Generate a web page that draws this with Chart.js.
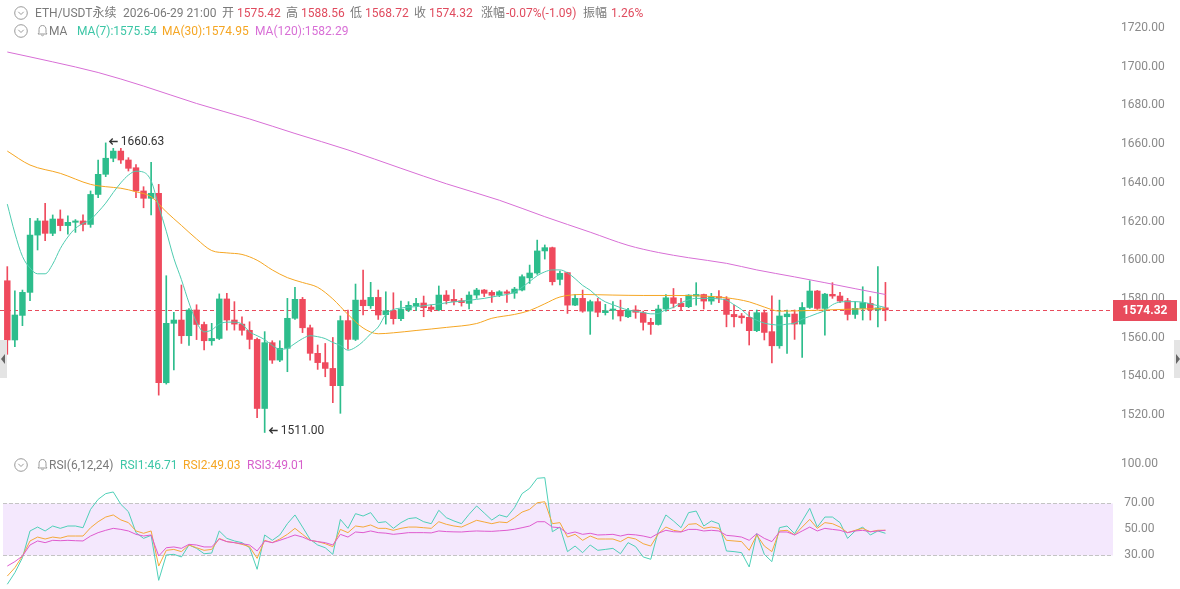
<!DOCTYPE html>
<html lang="zh">
<head>
<meta charset="utf-8">
<title>ETH/USDT永续</title>
<script src="https://cdn.jsdelivr.net/npm/chart.js@4.4.1/dist/chart.umd.min.js"></script>
<style>
  html, body { margin: 0; padding: 0; background: #fff; }
  #wrap { position: relative; width: 1180px; height: 589px; overflow: hidden;
          font-family: Roboto, "Noto Sans CJK SC", sans-serif; font-size: 12px; color: #7a7a7a; }
  #priceWrap { position: absolute; left: 0; top: 0; width: 1180px; height: 445px; }
  #rsiWrap { position: absolute; left: 0; top: 446px; width: 1180px; height: 144px; }
  .t { position: absolute; white-space: nowrap; line-height: 14px; }
  .red { color: #e04b5e; }
  .ic { position: absolute; }
  .tab { position: absolute; top: 340px; width: 7px; height: 38px; background: #e4e4e4; }
  .tab i { position: absolute; top: 14px; width: 0; height: 0; border-top: 5px solid transparent; border-bottom: 5px solid transparent; }
</style>
</head>
<body>
<div id="wrap">
  <div id="priceWrap"><canvas id="price"></canvas></div>
  <div id="rsiWrap"><canvas id="rsi"></canvas></div>

  <!-- header line 1 -->
  <svg class="ic" style="left:14px;top:6px" width="14" height="14" viewBox="0 0 14 14"><circle cx="7" cy="7" r="6.3" fill="none" stroke="#9a9a9a" stroke-width="1"/><path d="M4.3 5.8 L7 8.5 L9.7 5.8" fill="none" stroke="#9a9a9a" stroke-width="1"/></svg>
  <span class="t" style="left:35px;top:6px">ETH/USDT永续</span>
  <span class="t" style="left:123px;top:6px">2026-06-29 21:00</span>
  <span class="t" style="left:222px;top:6px">开</span><span class="t red" style="left:237px;top:6px">1575.42</span>
  <span class="t" style="left:286px;top:6px">高</span><span class="t red" style="left:301px;top:6px">1588.56</span>
  <span class="t" style="left:350px;top:6px">低</span><span class="t red" style="left:365px;top:6px">1568.72</span>
  <span class="t" style="left:414px;top:6px">收</span><span class="t red" style="left:429px;top:6px">1574.32</span>
  <span class="t" style="left:481px;top:6px">涨幅</span><span class="t red" style="left:506px;top:6px">-0.07%(-1.09)</span>
  <span class="t" style="left:583px;top:6px">振幅</span><span class="t red" style="left:611px;top:6px">1.26%</span>

  <!-- header line 2 -->
  <svg class="ic" style="left:14px;top:24px" width="14" height="14" viewBox="0 0 14 14"><circle cx="7" cy="7" r="6.3" fill="none" stroke="#9a9a9a" stroke-width="1"/><path d="M4.3 5.8 L7 8.5 L9.7 5.8" fill="none" stroke="#9a9a9a" stroke-width="1"/></svg>
  <svg class="ic" style="left:37px;top:24px" width="11" height="13" viewBox="0 0 11 13"><path d="M5.5 1.5 C3 1.5 2 3.5 2 5.5 L2 8.5 L1 10 L10 10 L9 8.5 L9 5.5 C9 3.5 8 1.5 5.5 1.5 Z M4.2 11 Q5.5 12.5 6.8 11" fill="none" stroke="#9a9a9a" stroke-width="1"/></svg>
  <span class="t" style="left:49px;top:24px">MA</span>
  <span class="t" style="left:77px;top:24px;color:#3cc6a6">MA(7):1575.54</span>
  <span class="t" style="left:162px;top:24px;color:#f5a623">MA(30):1574.95</span>
  <span class="t" style="left:255px;top:24px;color:#d86fd6">MA(120):1582.29</span>

  <!-- RSI header -->
  <svg class="ic" style="left:14px;top:458px" width="14" height="14" viewBox="0 0 14 14"><circle cx="7" cy="7" r="6.3" fill="none" stroke="#9a9a9a" stroke-width="1"/><path d="M4.3 5.8 L7 8.5 L9.7 5.8" fill="none" stroke="#9a9a9a" stroke-width="1"/></svg>
  <svg class="ic" style="left:37px;top:458px" width="11" height="13" viewBox="0 0 11 13"><path d="M5.5 1.5 C3 1.5 2 3.5 2 5.5 L2 8.5 L1 10 L10 10 L9 8.5 L9 5.5 C9 3.5 8 1.5 5.5 1.5 Z M4.2 11 Q5.5 12.5 6.8 11" fill="none" stroke="#9a9a9a" stroke-width="1"/></svg>
  <span class="t" style="left:49px;top:458px">RSI(6,12,24)</span>
  <span class="t" style="left:120px;top:458px;color:#3cc6a6">RSI1:46.71</span>
  <span class="t" style="left:183px;top:458px;color:#f5a623">RSI2:49.03</span>
  <span class="t" style="left:247px;top:458px;color:#d65fcb">RSI3:49.01</span>

  <div class="tab" style="left:0"><i style="left:1px;border-right:4px solid #666"></i></div>
  <div class="tab" style="left:1174px"><i style="left:2px;border-left:4px solid #666"></i></div>
</div>

<script>
// candles, oldest first; last one is 2026-06-29 21:00
const opens  = [1589.4,1558.8,1571.5,1583.4,1613.0,1620.3,1613.9,1621.3,1617.9,1619.6,
                1620.3,1618.5,1634.0,1644.4,1652.7,1656.4,1651.8,1647.8,1635.8,1632.0,
                1634.6,1536.7,1567.4,1569.1,1561.0,1574.3,1566.8,1558.4,1559.6,1580.0,
                1569.1,1567.0,1563.8,1559.1,1523.4,1557.4,1548.4,1554.5,1570.0,1579.8,
                1565.1,1551.9,1547.1,1544.1,1535.2,1568.8,1559.1,1579.4,1576.5,1580.8,
                1571.9,1573.9,1569.8,1574.3,1576.5,1577.9,1575.8,1574.4,1582.0,1579.8,
                1579.1,1577.7,1582.0,1584.6,1583.4,1581.9,1583.7,1583.0,1584.6,1590.9,
                1593.4,1604.8,1606.5,1590.1,1593.6,1576.8,1580.3,1573.7,1578.6,1572.9,
                1574.1,1574.1,1570.8,1574.3,1572.9,1567.9,1566.8,1574.8,1580.6,1577.7,
                1576.0,1581.5,1582.3,1578.9,1581.2,1580.0,1572.0,1571.2,1570.5,1563.6,
                1572.9,1563.1,1555.8,1570.8,1572.2,1567.0,1575.6,1584.1,1575.1,1582.4,
                1581.5,1579.1,1572.0,1575.1,1577.7,1574.3,1575.42];
const highs  = [1596.7,1584.2,1584.6,1621.6,1621.6,1629.4,1623.4,1626.0,1623.0,1621.0,
                1623.4,1635.8,1651.8,1660.63,1657.8,1657.8,1653.0,1649.4,1638.0,1650.6,
                1639.2,1592.0,1573.1,1587.2,1575.0,1577.0,1568.0,1567.4,1582.6,1582.9,
                1578.6,1570.8,1568.2,1559.8,1563.1,1558.4,1558.4,1580.3,1586.0,1580.8,
                1566.5,1556.2,1557.0,1560.1,1571.2,1574.3,1587.7,1594.9,1588.6,1584.6,
                1583.7,1583.2,1578.9,1578.6,1580.3,1581.5,1576.9,1586.7,1584.3,1584.9,
                1580.3,1583.7,1585.5,1584.9,1584.3,1584.3,1584.6,1586.0,1592.4,1597.5,
                1610.4,1607.9,1606.8,1594.4,1593.8,1582.4,1584.6,1579.4,1580.3,1577.2,
                1578.6,1579.4,1575.1,1576.5,1573.7,1570.0,1576.8,1582.3,1585.4,1580.3,
                1582.2,1588.4,1582.5,1582.9,1584.3,1581.2,1576.8,1572.5,1573.4,1574.3,
                1574.3,1581.6,1579.4,1574.3,1574.3,1578.1,1589.4,1584.4,1582.9,1588.4,
                1583.4,1580.3,1578.6,1586.3,1581.2,1596.7,1588.56];
const lows   = [1551.4,1555.3,1566.2,1579.1,1605.3,1610.1,1612.7,1615.2,1613.5,1614.4,
                1615.2,1617.0,1632.3,1643.2,1650.9,1650.0,1646.1,1632.3,1627.1,1623.4,
                1530.3,1536.0,1543.3,1557.0,1556.0,1559.0,1553.6,1556.1,1559.0,1563.9,
                1563.9,1561.3,1554.2,1518.6,1511.0,1546.7,1547.6,1542.4,1569.4,1562.6,
                1548.4,1543.6,1539.8,1526.4,1520.9,1554.0,1558.5,1571.7,1575.1,1569.4,
                1567.0,1567.0,1568.8,1573.4,1573.9,1570.8,1573.4,1573.9,1577.4,1576.9,
                1576.3,1574.8,1580.3,1581.2,1578.2,1581.2,1578.2,1580.3,1584.1,1588.0,
                1592.7,1600.6,1587.2,1587.2,1572.5,1576.5,1573.1,1561.7,1570.8,1571.7,
                1569.6,1568.6,1570.3,1570.0,1563.9,1561.7,1566.5,1573.7,1575.4,1574.3,
                1575.5,1576.8,1574.8,1577.2,1578.1,1565.6,1565.6,1567.4,1556.2,1563.1,
                1558.8,1547.0,1554.5,1551.9,1559.1,1549.8,1575.1,1574.6,1561.3,1580.3,
                1578.1,1569.1,1570.0,1569.1,1569.1,1565.6,1568.72];
const closes = [1558.8,1571.7,1583.4,1613.0,1620.3,1613.9,1621.3,1617.9,1619.6,1620.3,
                1618.5,1634.0,1644.4,1652.7,1656.4,1651.8,1647.5,1635.8,1632.0,1634.6,
                1536.7,1567.4,1569.1,1561.0,1574.3,1566.8,1558.4,1559.6,1580.0,1569.1,
                1567.0,1563.8,1559.1,1523.4,1557.4,1548.4,1554.5,1570.0,1579.8,1565.1,
                1551.9,1547.1,1544.1,1535.2,1568.8,1559.1,1579.4,1576.5,1580.8,1571.7,
                1573.9,1569.8,1574.6,1576.7,1577.7,1575.5,1574.6,1582.0,1579.1,1578.7,
                1578.1,1582.0,1584.6,1582.9,1581.9,1583.7,1582.9,1585.1,1591.5,1593.4,
                1604.8,1606.5,1588.9,1593.2,1576.8,1580.3,1573.7,1578.6,1573.1,1573.9,
                1574.8,1571.2,1574.1,1573.1,1567.9,1566.8,1574.8,1580.6,1577.7,1576.0,
                1582.0,1582.3,1578.9,1581.2,1580.5,1572.0,1570.8,1570.3,1563.6,1572.9,
                1562.7,1555.8,1571.2,1572.2,1567.0,1575.6,1584.1,1575.1,1582.5,1581.5,
                1578.9,1572.0,1575.1,1578.1,1574.3,1575.4,1574.32];

// moving averages
const ma7 = [1629,1614,1602,1596,1593,1593,1598,1606,1612,1616.5,
             1619,1621,1625,1629.5,1635,1640,1644,1646,1645.5,1641,
             1628,1615,1601,1590,1578,1568,1563,1564,1567,1568,
             1568,1567,1563,1561,1559,1556,1554,1554.5,1557,1559.5,
             1561,1560.5,1559.5,1557.5,1556,1553.5,1555,1558,1562,1565.5,
             1572,1574.5,1575.3,1575.8,1576,1576.5,1577,1577.4,1578,1578.5,
             1578.8,1579.3,1579.8,1580.3,1581,1581.7,1582.3,1583.5,1586,1589,
             1592,1594,1595,1595,1593.5,1590.5,1587,1584.5,1581,1578.5,
             1577,1575.5,1574.3,1573.6,1573,1572.3,1572.5,1574.5,1575.6,1578,
             1579.5,1580.3,1580.3,1580.3,1580,1579.4,1577,1574.5,1571,1569,
             1567.5,1566.8,1566.5,1567,1567.5,1569.5,1571,1572.5,1574,1577,
             1578.4,1578.6,1578.6,1578.3,1577.5,1576.5,1575.54];
// [candle index, value]
const ma30 = [[0,1656.4],[3,1649.2],[7,1644.9],[11,1639.2],[13,1638],[15,1637.2],[17,1635.4],
              [19,1632.8],[21,1625],[23,1618],[25,1611],[27,1605],[29,1603.8],[31,1603],
              [33,1600],[35,1595],[37,1591],[39,1588.5],[41,1586],[43,1580],[45,1572],
              [47,1565],[49,1562],[51,1562.5],[54,1563.7],[58,1565.3],[62,1567.3],[64,1570],
              [67,1572],[69,1574],[71,1577.5],[73,1581],[76,1582.3],[80,1582],[84,1581.8],
              [88,1581.8],[92,1581.5],[95,1580.6],[98,1578.5],[100,1575.8],[102,1573.7],
              [105,1573.9],[108,1574.3],[112,1574.8],[116,1574.95]];
const ma120 = [[0,1707.6],[6,1702.5],[12,1697],[18,1690],[25,1681],[32,1673],[38,1665.5],
               [45,1657],[52,1647.5],[58,1639.5],[65,1631],[71,1622.5],[77,1614.5],[82,1607.7],
               [86,1604],[90,1601.3],[95,1598.4],[99,1595],[104,1591.4],[108,1588.4],
               [112,1585.3],[116,1582.29]];

const rsi1 = [7.5,16.4,27.9,48.5,51.5,48.5,52.3,50.5,52.3,52.3,
              51.0,65.1,72.8,77.2,78.5,69.0,63.3,47.2,42.8,45.1,
              10.5,30.0,30.5,28.5,37.7,35.1,31.0,31.5,48.5,42.8,
              40.8,39.5,35.6,19.0,45.4,41.3,45.4,54.1,60.8,51.5,
              42.0,37.7,35.6,30.5,57.4,50.5,61.8,60.0,62.6,54.9,
              55.6,50.5,54.9,58.0,58.7,55.6,54.1,64.4,58.7,56.2,
              54.1,61.3,67.7,62.3,56.9,60.8,59.2,66.4,77.2,81.3,
              89.0,89.5,47.9,51.5,32.6,36.9,31.8,37.7,33.6,34.3,
              35.1,31.0,39.5,36.4,28.5,26.7,48.5,60.8,56.2,51.0,
              62.6,63.8,52.3,56.2,54.1,33.1,32.6,31.8,20.8,46.4,
              30.5,24.9,51.0,52.3,46.4,56.2,65.9,51.5,59.2,59.2,
              54.9,42.8,48.5,51.5,45.4,48.5,46.71];
const rsi2 = [13.8,20.2,29.2,40.8,43.8,42.3,43.8,43.0,44.6,44.6,
              44.6,51.0,55.6,59.2,60.8,57.0,54.9,48.5,46.7,48.5,
              21.5,33.6,34.3,32.6,37.7,35.6,33.6,34.3,42.8,40.3,
              39.5,38.2,36.4,27.4,41.3,39.5,42.3,45.9,50.5,45.9,
              41.3,40.3,38.7,36.4,49.7,47.2,52.3,51.5,53.1,50.5,
              50.5,49.0,50.5,51.5,51.5,51.0,50.5,55.6,53.6,52.3,
              51.5,54.1,56.7,55.4,54.1,55.4,54.9,58.7,63.0,65.1,
              70.2,71.0,54.1,54.9,43.8,45.9,41.3,44.6,42.3,42.3,
              42.3,40.3,43.6,42.3,38.7,36.9,46.4,51.5,49.0,47.9,
              53.6,54.1,50.5,51.5,50.5,41.3,40.8,40.3,33.6,45.4,
              36.9,32.6,48.5,49.0,45.4,51.5,57.4,50.5,54.9,54.1,
              51.5,47.2,49.0,50.5,47.9,49.0,49.03];
const rsi3 = [21.5,24.9,29.2,37.7,40.8,39.5,41.3,41.0,41.3,41.0,
              40.8,44.6,47.2,49.0,50.5,49.7,48.5,45.9,44.6,45.4,
              29.2,35.6,36.2,35.1,38.2,37.7,36.2,36.2,42.3,40.3,
              39.5,38.7,37.7,33.1,40.8,39.5,41.3,43.3,45.4,43.8,
              41.3,40.3,39.5,37.7,45.9,43.8,47.7,47.2,48.5,47.2,
              46.8,45.9,46.5,47.2,47.2,47.2,47.0,48.5,48.0,47.8,
              47.7,48.2,48.5,48.3,48.2,48.6,49.0,49.8,51.0,52.3,
              55.6,55.6,51.5,51.0,46.4,47.7,45.9,46.7,45.4,45.6,
              45.9,44.6,45.9,45.5,44.6,43.3,46.7,49.0,47.9,47.7,
              49.7,49.7,48.5,49.0,48.5,45.1,44.6,43.8,41.3,46.4,
              42.8,40.3,47.7,47.7,45.4,48.5,51.5,48.5,50.5,49.7,
              49.0,47.2,48.5,49.0,47.9,48.5,49.01];

const priceTicks = [1520, 1540, 1560, 1580, 1600, 1620, 1640, 1660, 1680, 1700, 1720];
const rsiTicks = [30, 50, 70, 100];
const lastClose = 1574.32;
const highMark = { index: 13, value: 1660.63 };
const lowMark = { index: 34, value: 1511.00 };

const UP = '#2dbd8c';
const DOWN = '#ef4a5d';
const MA7_C = '#4fccb0';
const MA30_C = '#f5a623';
const MA120_C = '#d86fd6';
const PRICE_C = '#e84b5c';
const TICK_C = '#8a8a8a';

// 7.57px per candle, first candle 7.3px in from the left edge
const X_MIN = -0.964;
const X_MAX = 146.06;
const AXIS_W = 67;

const idx = opens.map((_, i) => i);
const candleColor = (c) => (closes[c.dataIndex] >= opens[c.dataIndex] ? UP : DOWN);
const pairs = (arr) => arr.map(([x, y]) => ({ x, y }));

const xScale = { type: 'linear', min: X_MIN, max: X_MAX, display: false, offset: false, grid: { display: false } };

function rightAxis(min, max, ticks) {
  return {
    position: 'right', min, max,
    grid: { display: false }, border: { display: false },
    afterBuildTicks(s) { s.ticks = ticks.map((v) => ({ value: v })); },
    afterFit(s) { s.width = AXIS_W; s.paddingTop = 0; s.paddingBottom = 0; },
    ticks: {
      color: TICK_C, padding: 0, crossAlign: 'center',
      font: { family: 'Roboto', size: 12 },
      callback: (v) => Number(v).toFixed(2)
    }
  };
}

function markLabel(c, x, y, value) {
  // small left arrow, then the price
  c.beginPath();
  c.moveTo(x + 9, y); c.lineTo(x + 1, y);
  c.moveTo(x + 4, y - 3); c.lineTo(x + 1, y); c.lineTo(x + 4, y + 3);
  c.stroke();
  c.fillText(value.toFixed(2), x + 12, y);
}

const lastPriceLine = {
  id: 'lastPriceLine',
  beforeDatasetsDraw(chart) {
    const { ctx: c, chartArea, scales } = chart;
    const y = Math.round(scales.y.getPixelForValue(lastClose)) + 0.5;
    c.save();
    c.strokeStyle = PRICE_C;
    c.lineWidth = 1;
    c.setLineDash([4, 3]);
    c.beginPath();
    c.moveTo(chartArea.left, y);
    c.lineTo(chartArea.right, y);
    c.stroke();
    c.restore();
  },
  afterDatasetsDraw(chart) {
    const { ctx: c, scales } = chart;
    c.save();
    c.fillStyle = '#333';
    c.strokeStyle = '#333';
    c.lineWidth = 1.3;
    c.font = '12px Roboto';
    c.textBaseline = 'middle';
    markLabel(c, scales.x.getPixelForValue(highMark.index) + 3, Math.round(scales.y.getPixelForValue(highMark.value)) - 1.5, highMark.value);
    markLabel(c, scales.x.getPixelForValue(lowMark.index) + 4, Math.round(scales.y.getPixelForValue(lowMark.value)) - 1.5, lowMark.value);
    c.restore();
  },
  afterDraw(chart) {
    const { ctx: c, chartArea, scales } = chart;
    const y = Math.round(scales.y.getPixelForValue(lastClose));
    c.save();
    c.fillStyle = PRICE_C;
    c.fillRect(chartArea.right, y - 10, 64, 21);
    c.fillStyle = '#fff';
    c.font = 'bold 12px Roboto';
    c.textAlign = 'center';
    c.textBaseline = 'middle';
    c.fillText(lastClose.toFixed(2), chartArea.right + 32, y + 1);
    c.restore();
  }
};

new Chart(document.getElementById('price'), {
  type: 'bar',
  data: {
    datasets: [
      { type: 'line', label: 'MA(7)', data: idx.map((i) => ({ x: i, y: ma7[i] })), borderColor: MA7_C,
        borderWidth: 1, pointRadius: 0, cubicInterpolationMode: 'monotone', order: 0 },
      { type: 'line', label: 'MA(30)', data: pairs(ma30), borderColor: MA30_C,
        borderWidth: 1, pointRadius: 0, cubicInterpolationMode: 'monotone', order: 0 },
      { type: 'line', label: 'MA(120)', data: pairs(ma120), borderColor: MA120_C,
        borderWidth: 1, pointRadius: 0, cubicInterpolationMode: 'monotone', order: 0 },
      { label: 'wick', data: idx.map((i) => ({ x: i, y: [lows[i], highs[i]] })),
        backgroundColor: candleColor, barThickness: 1, grouped: false, order: 2 },
      { label: 'body', data: idx.map((i) => ({ x: i, y: [opens[i], closes[i]] })),
        backgroundColor: candleColor, barThickness: 5.8, minBarLength: 1, grouped: false, order: 1 }
    ]
  },
  options: {
    responsive: true,
    maintainAspectRatio: false,
    animation: false,
    layout: { padding: 0 },
    plugins: { legend: { display: false }, tooltip: { enabled: false } },
    scales: { x: xScale, y: rightAxis(1504.53, 1734.47, priceTicks) }
  },
  plugins: [lastPriceLine]
});

const rsiBand = {
  id: 'rsiBand',
  beforeDatasetsDraw(chart) {
    const { ctx: c, chartArea, scales } = chart;
    const top = Math.round(scales.y.getPixelForValue(70)) + 0.5;
    const bot = Math.round(scales.y.getPixelForValue(30)) + 0.5;
    const left = chartArea.left + 3;
    c.save();
    c.fillStyle = '#f4e8fd';
    c.fillRect(left, top, chartArea.right - left, bot - top);
    c.strokeStyle = '#c4c4c4';
    c.lineWidth = 1;
    c.setLineDash([4, 2]);
    c.beginPath();
    c.moveTo(left, top); c.lineTo(chartArea.right, top);
    c.moveTo(left, bot); c.lineTo(chartArea.right, bot);
    c.stroke();
    c.restore();
  }
};

const rsiLine = (label, values, color) => ({
  label, data: idx.map((i) => ({ x: i, y: values[i] })), borderColor: color,
  borderWidth: 1, pointRadius: 0, tension: 0
});

new Chart(document.getElementById('rsi'), {
  type: 'line',
  data: {
    datasets: [
      rsiLine('RSI3', rsi3, '#df5bcf'),
      rsiLine('RSI2', rsi2, '#f5a93a'),
      rsiLine('RSI1', rsi1, '#4fd0b8')
    ]
  },
  options: {
    responsive: true,
    maintainAspectRatio: false,
    animation: false,
    layout: { padding: 0 },
    plugins: { legend: { display: false }, tooltip: { enabled: false } },
    scales: { x: xScale, y: rightAxis(3.08, 113.85, rsiTicks) }
  },
  plugins: [rsiBand]
});
</script>
</body>
</html>
